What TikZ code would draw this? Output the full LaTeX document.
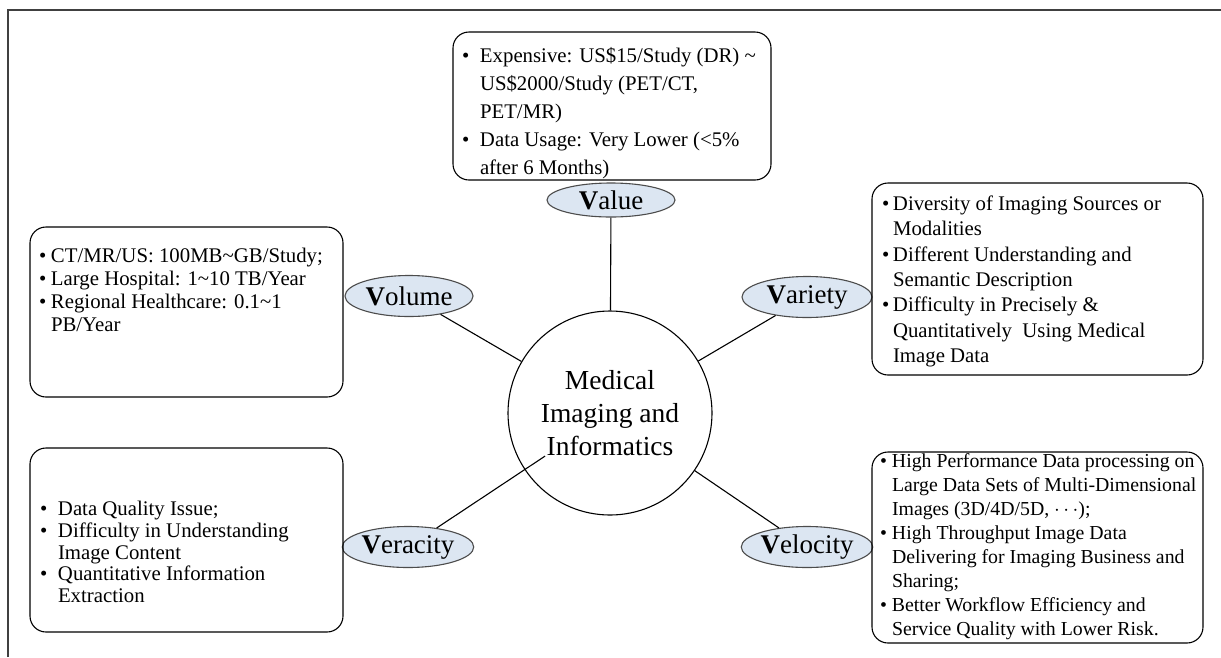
\documentclass[tikz,border=0pt]{standalone}
\usepackage{fontspec}
\setmainfont{Liberation Serif}
\usetikzlibrary{shapes.geometric}
\usetikzlibrary{positioning}
\definecolor{tagfill}{RGB}{220,230,242}
\tikzset{%
  c/.style = {circle,draw,minimum size=204pt,inner sep=0pt,align=center,
        font=\fontsize{27.5}{33}\selectfont},
  tag/.style = {ellipse,draw=black!70,fill=tagfill,minimum width=128pt,
        minimum height=41pt,inner sep=0pt,font=\fontsize{27}{30}\selectfont},
  r/.style = {rectangle,rounded corners=16pt,draw},
  lst/.style = {align=left,inner sep=0pt,anchor=north west}
}
\newcommand{\bul}[1][12pt]{\makebox[#1][l]{\textbullet}}
\newcommand{\hng}[1][12pt]{\hspace*{#1}}

\begin{document}
\begin{tikzpicture}[x=1pt,y=-1pt,line width=1.1pt]
  \useasboundingbox (0,0) rectangle (1221,657);
  \draw[line width=1.6pt,black!75] (8,657) -- (8,10) -- (1221,10);

  \node[c] (core) at (610,413) {Medical\\Imaging and\\Informatics};

  % the five V's
  \node[tag,minimum height=34pt] (value) at (611,200) {\textbf{V}alue};
  \node[tag] (volume) at (409,296) {\textbf{V}olume};
  \node[tag,minimum width=130pt] (variety) at (807,297) {\textbf{V}ariety};
  \node[tag,minimum width=130pt] (veracity) at (408,547) {\textbf{V}eracity};
  \node[tag,minimum width=130pt] (velocity) at (807,547) {\textbf{V}elocity};

  \draw (value) -- (core);
  \draw (volume) -- (core);
  \draw (variety) -- (core);
  \draw[shorten >=78pt] (veracity) -- (core.center);
  \draw (velocity) -- (core);

  % boxes
  \node[r,minimum width=318pt,minimum height=148pt] (valbox) at (612,106) {};
  \node[lst,below right=15pt and 9pt of valbox.north west,
    font=\fontsize{20.8}{28}\selectfont] (valtxt)
    {\bul[18pt]Expensive: US\$15/Study (DR) \textasciitilde\\
     \hng[18pt]US\$2000/Study (PET/CT,\\
     \hng[18pt]PET/MR)\\
     \bul[18pt]Data Usage: Very Lower (<5\%\\
     \hng[18pt]after 6 Months)};

  \node[r,minimum width=313pt,minimum height=170pt] (volbox) at (186.5,312) {};
  \node[lst,below right=21pt and 9pt of volbox.north west,
    font=\fontsize{20.8}{23}\selectfont] (voltxt)
    {\bul CT/MR/US: 100MB\textasciitilde GB/Study;\\
     \bul Large Hospital: 1\textasciitilde 10 TB/Year\\
     \bul Regional Healthcare: 0.1\textasciitilde 1\\
     \hng PB/Year};

  \node[r,minimum width=331pt,minimum height=192pt] (varbox) at (1037.5,279) {};
  \node[lst,below right=13pt and 10pt of varbox.north west,
    font=\fontsize{20.8}{25.3}\selectfont] (vartxt)
    {\bul[11pt]Diversity of Imaging Sources or\\
     \hng[11pt]Modalities\\
     \bul[11pt]Different Understanding and\\
     \hng[11pt]Semantic Description\\
     \bul[11pt]Difficulty in Precisely \&\\
     \hng[11pt]Quantitatively\ \ Using Medical\\
     \hng[11pt]Image Data};

  \node[r,minimum width=313pt,minimum height=184pt] (verbox) at (186.5,540) {};
  \node[lst,below right=53pt and 10pt of verbox.north west,
    font=\fontsize{20.8}{21.8}\selectfont] (vertxt)
    {\bul[18pt]Data Quality Issue;\\
     \bul[18pt]Difficulty in Understanding\\
     \hng[18pt]Image Content\\
     \bul[18pt]Quantitative Information\\
     \hng[18pt]Extraction};

  \node[r,minimum width=331pt,minimum height=191pt] (velbox) at (1037.5,547.5) {};
  \node[lst,below right=2pt and 8pt of velbox.north west,
    font=\fontsize{19.8}{24}\selectfont] (veltxt)
    {\bul High Performance Data processing on\\
     \hng Large Data Sets of Multi-Dimensional\\
     \hng Images (3D/4D/5D, $\cdots$);\\
     \bul High Throughput Image Data\\
     \hng Delivering for Imaging Business and\\
     \hng Sharing;\\
     \bul Better Workflow Efficiency and\\
     \hng Service Quality with Lower Risk.};
\end{tikzpicture}
\end{document}
